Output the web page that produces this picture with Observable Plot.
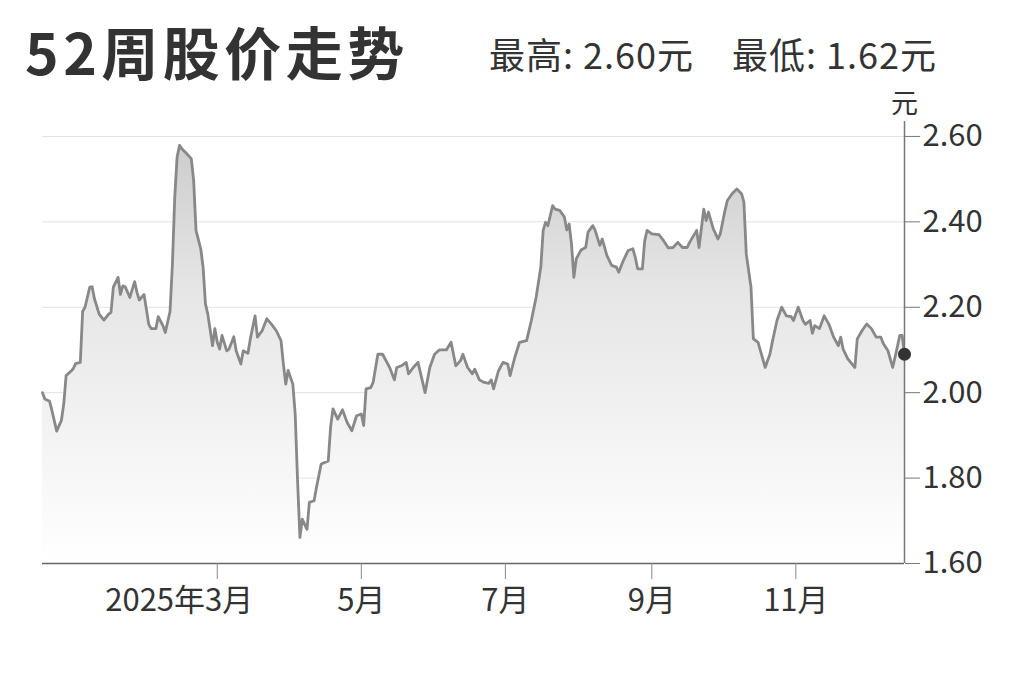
<!DOCTYPE html>
<html><head><meta charset="utf-8">
<script src="https://cdn.jsdelivr.net/npm/d3@7"></script>
<script src="https://cdn.jsdelivr.net/npm/@observablehq/plot@0.6"></script>
<style>
body{margin:0;background:#fff;font-family:"Noto Sans CJK SC",sans-serif;}
#wrap{width:1023px;}
#head{position:relative;height:90px;}
#title{position:absolute;left:25px;top:22px;font-size:57px;font-weight:700;color:#333;line-height:1;letter-spacing:4.5px;white-space:nowrap;}
#sub{position:absolute;left:489px;top:35px;font-size:36px;color:#333;line-height:1;letter-spacing:1px;white-space:nowrap;}
</style></head><body>
<div id="wrap">
  <div id="head"><div id="title"></div><div id="sub"><span id="hi"></span><span id="lo" style="margin-left:38px"></span></div></div>
  <div id="chart"></div>
</div>
<script>
const titleText = "52周股价走势";
const statLabels = ["最高", "最低"];
const statValues = [2.60, 1.62];
const unit = "元";
const dates = [
"2024-12-17","2024-12-18","2024-12-20","2024-12-21","2024-12-23","2024-12-25","2024-12-26","2024-12-27","2024-12-29","2024-12-30","2024-12-31",
"2025-01-02","2025-01-03","2025-01-04","2025-01-06","2025-01-07","2025-01-08","2025-01-10","2025-01-12","2025-01-14","2025-01-15","2025-01-16","2025-01-18","2025-01-19","2025-01-20","2025-01-21","2025-01-23","2025-01-25","2025-01-26","2025-01-27","2025-01-29","2025-01-31",
"2025-02-01","2025-02-03","2025-02-04","2025-02-06","2025-02-07","2025-02-09","2025-02-10","2025-02-11","2025-02-12","2025-02-13","2025-02-14","2025-02-16","2025-02-18","2025-02-19","2025-02-20","2025-02-22","2025-02-23","2025-02-24","2025-02-25","2025-02-27","2025-02-28",
"2025-03-01","2025-03-02","2025-03-03","2025-03-05","2025-03-06","2025-03-08","2025-03-09","2025-03-11","2025-03-12","2025-03-14","2025-03-15","2025-03-17","2025-03-18","2025-03-20","2025-03-22","2025-03-24","2025-03-26","2025-03-28","2025-03-29","2025-03-30","2025-03-31",
"2025-04-02","2025-04-03","2025-04-04","2025-04-05","2025-04-06","2025-04-08","2025-04-09","2025-04-11","2025-04-12","2025-04-14","2025-04-17","2025-04-18","2025-04-19","2025-04-21","2025-04-23","2025-04-25","2025-04-27","2025-04-29",
"2025-05-01","2025-05-02","2025-05-03","2025-05-05","2025-05-06","2025-05-08","2025-05-10","2025-05-13","2025-05-15","2025-05-16","2025-05-18","2025-05-20","2025-05-21","2025-05-23","2025-05-25","2025-05-28","2025-05-30",
"2025-06-01","2025-06-03","2025-06-06","2025-06-08","2025-06-10","2025-06-12","2025-06-13","2025-06-15","2025-06-17","2025-06-18","2025-06-20","2025-06-22","2025-06-24","2025-06-25","2025-06-26","2025-06-28","2025-06-30",
"2025-07-02","2025-07-03","2025-07-05","2025-07-07","2025-07-10","2025-07-12","2025-07-14","2025-07-16","2025-07-17","2025-07-18","2025-07-19","2025-07-21","2025-07-22","2025-07-24","2025-07-26","2025-07-27","2025-07-28","2025-07-29","2025-07-30","2025-07-31",
"2025-08-02","2025-08-04","2025-08-05","2025-08-07","2025-08-08","2025-08-10","2025-08-11","2025-08-13","2025-08-15","2025-08-17","2025-08-18","2025-08-20","2025-08-22","2025-08-24","2025-08-25","2025-08-26","2025-08-28","2025-08-29","2025-08-30",
"2025-09-01","2025-09-04","2025-09-06","2025-09-08","2025-09-10","2025-09-12","2025-09-14","2025-09-16","2025-09-17","2025-09-20","2025-09-21","2025-09-23","2025-09-24","2025-09-25","2025-09-27","2025-09-29","2025-09-30",
"2025-10-02","2025-10-03","2025-10-05","2025-10-07","2025-10-09","2025-10-10","2025-10-11","2025-10-13","2025-10-14","2025-10-16","2025-10-19","2025-10-21","2025-10-22","2025-10-24","2025-10-26","2025-10-28","2025-10-30","2025-10-31",
"2025-11-02","2025-11-04","2025-11-05","2025-11-07","2025-11-08","2025-11-09","2025-11-11","2025-11-13","2025-11-15","2025-11-17","2025-11-19","2025-11-20","2025-11-21","2025-11-23","2025-11-26","2025-11-27","2025-11-29",
"2025-12-01","2025-12-03","2025-12-05","2025-12-07","2025-12-08","2025-12-10","2025-12-12","2025-12-13","2025-12-15","2025-12-16","2025-12-17"
];
const prices = [
2.00,1.985,1.98,1.958,1.91,1.935,1.974,2.04,2.05,2.056,2.068,
2.071,2.19,2.20,2.247,2.248,2.22,2.184,2.17,2.184,2.188,2.247,2.27,2.23,2.25,2.248,2.223,2.26,2.235,2.217,2.23,2.16,
2.15,2.15,2.178,2.157,2.141,2.19,2.30,2.458,2.552,2.579,2.571,2.56,2.548,2.497,2.38,2.337,2.294,2.208,2.184,2.11,2.15,
2.118,2.102,2.134,2.098,2.102,2.131,2.098,2.067,2.098,2.092,2.126,2.18,2.13,2.145,2.173,2.16,2.145,2.122,2.067,2.02,2.052,
2.02,1.95,1.794,1.661,1.704,1.68,1.743,1.747,1.778,1.833,1.84,1.92,1.962,1.938,1.96,1.93,1.911,1.946,
1.95,1.923,2.009,2.012,2.024,2.09,2.09,2.059,2.03,2.059,2.063,2.071,2.044,2.059,2.071,2.00,2.059,
2.09,2.10,2.10,2.118,2.063,2.075,2.09,2.059,2.044,2.055,2.03,2.024,2.022,2.03,2.009,2.05,2.071,
2.067,2.04,2.083,2.118,2.122,2.169,2.223,2.294,2.38,2.399,2.391,2.438,2.43,2.427,2.411,2.381,2.395,2.348,2.27,2.313,
2.334,2.34,2.376,2.391,2.38,2.345,2.36,2.321,2.298,2.294,2.282,2.31,2.333,2.337,2.317,2.29,2.29,2.356,2.38,
2.372,2.37,2.356,2.339,2.34,2.352,2.34,2.34,2.352,2.38,2.34,2.43,2.403,2.423,2.384,2.36,2.372,
2.427,2.45,2.466,2.477,2.466,2.446,2.325,2.247,2.126,2.118,2.059,2.09,2.118,2.169,2.20,2.18,2.178,2.169,
2.20,2.169,2.16,2.169,2.139,2.157,2.15,2.18,2.16,2.13,2.11,2.13,2.102,2.079,2.059,2.126,2.145,
2.161,2.15,2.13,2.13,2.115,2.098,2.059,2.083,2.134,2.134,2.09
];
const yTicks = [1.60, 1.80, 2.00, 2.20, 2.40, 2.60];
const yTop = 2.635;
const xTicks = ["2025-03-01","2025-05-01","2025-07-01","2025-09-01","2025-11-01"];

document.getElementById("title").textContent = titleText;
document.getElementById("hi").textContent = `${statLabels[0]}: ${statValues[0].toFixed(2)}${unit}`;
document.getElementById("lo").textContent = `${statLabels[1]}: ${statValues[1].toFixed(2)}${unit}`;

const data = dates.map((d, i) => ({date: new Date(d), price: prices[i]}));
const tickDates = xTicks.map(d => new Date(d));
const yBase = yTicks[0];
const last = data[data.length - 1];
const font = '"Noto Sans CJK SC", sans-serif';
const monthLabel = d => `${d.getUTCMonth() + 1}月`;

const plot = Plot.plot({
  width: 1023, height: 592,
  marginTop: 31, marginBottom: 119, marginLeft: 42, marginRight: 119,
  style: {fontFamily: font, background: "#fff", color: "#333", overflow: "visible"},
  x: {type: "utc", domain: [data[0].date, last.date], label: null},
  y: {domain: [yBase, yTop], label: null},
  marks: [
    Plot.gridY(yTicks, {stroke: "#e3e3e3", strokeOpacity: 1}),
    Plot.areaY(data, {x: "date", y1: () => yBase, y2: "price", fill: "url(#fadeG)"}),
    Plot.lineY(data, {x: "date", y: "price", stroke: "#888", strokeWidth: 2.8, strokeLinejoin: "round"}),
    Plot.ruleY([yBase], {stroke: "#666", strokeWidth: 1.5}),
    Plot.ruleX([last.date], {stroke: "#777", strokeWidth: 1.5}),
    Plot.axisY(yTicks, {anchor: "right", label: null, tickSize: 15, tickPadding: 3, tickFormat: d3.format(".2f"), fontSize: 31, stroke: "#777", fill: "#333"}),
    Plot.axisX(tickDates, {anchor: "bottom", label: null, tickSize: 16, tickPadding: 9, tickFormat: (d, i) => i === 0 ? "" : monthLabel(d), fontSize: 31, stroke: "#888", fill: "#333"}),
    Plot.text([tickDates[0]], {x: d => d, text: d => `${d.getUTCFullYear()}年${monthLabel(d)}`, frameAnchor: "bottom", textAnchor: "end", lineAnchor: "top", dy: 25, dx: 36, fontSize: 31, fill: "#333"}),
    Plot.text([unit], {frameAnchor: "top-right", text: d => d, textAnchor: "middle", dy: -28, fontSize: 27, fill: "#333"}),
    Plot.dot([last], {x: "date", y: "price", r: 6.5, fill: "#333"})
  ]
});

const defs = d3.select(plot).insert("defs", ":first-child");
const grad = defs.append("linearGradient").attr("id", "fadeG").attr("x1", 0).attr("y1", 0).attr("x2", 0).attr("y2", 1);
grad.append("stop").attr("offset", "0").attr("stop-color", "#cdcdcd");
grad.append("stop").attr("offset", "0.35").attr("stop-color", "#e6e6e6");
grad.append("stop").attr("offset", "1").attr("stop-color", "#ffffff");

document.getElementById("chart").appendChild(plot);
</script>
</body></html>
